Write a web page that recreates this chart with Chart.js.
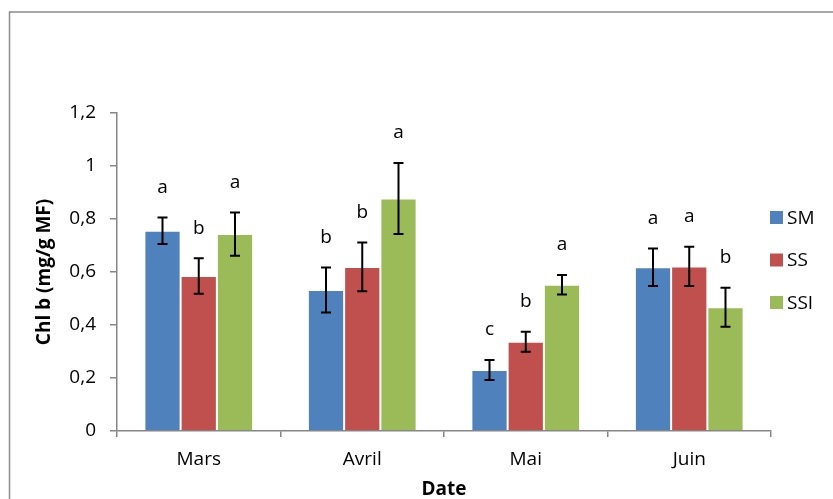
<!DOCTYPE html>
<html>
<head>
<meta charset="utf-8">
<script src="https://cdn.jsdelivr.net/npm/chart.js@4/dist/chart.umd.min.js"></script>
<style>
html,body{margin:0;padding:0;background:#fff;}
#wrap{width:833px;height:499px;position:relative;}
</style>
</head>
<body>
<div id="wrap"><canvas id="c" width="833" height="499"></canvas></div>
<script>
const categories = ['Mars', 'Avril', 'Mai', 'Juin'];
const seriesNames = ['SM', 'SS', 'SSI'];
const smValues = [0.756, 0.532, 0.230, 0.618];
const ssValues = [0.585, 0.619, 0.337, 0.621];
const ssiValues = [0.743, 0.877, 0.552, 0.467];
const smErrors = [0.050, 0.085, 0.038, 0.071];
const ssErrors = [0.067, 0.092, 0.038, 0.074];
const ssiErrors = [0.082, 0.134, 0.037, 0.074];
const smLetters = ['a', 'b', 'c', 'a'];
const ssLetters = ['b', 'b', 'b', 'a'];
const ssiLetters = ['a', 'a', 'a', 'b'];
const yTicks = [0, 0.2, 0.4, 0.6, 0.8, 1, 1.2];
const yTitle = 'Chl b (mg/g MF)';
const xTitle = 'Date';

const colors = ['#4F81BD', '#C0504D', '#9BBB59'];
const FONT = '"Open Sans", "Noto Sans", sans-serif';
const AXIS = '#868686';
const FS = 19;

const values = [smValues, ssValues, ssiValues];
const errors = [smErrors, ssErrors, ssiErrors];
const letters = [smLetters, ssLetters, ssiLetters];

const errorBarPlugin = {
  id: 'errorBars',
  afterDatasetsDraw(chart) {
    const ctx = chart.ctx;
    const y = chart.scales.y;
    ctx.save();
    chart.data.datasets.forEach((ds, di) => {
      const meta = chart.getDatasetMeta(di);
      meta.data.forEach((bar, i) => {
        const v = values[di][i], e = errors[di][i];
        const yTop = y.getPixelForValue(v + e);
        const yBot = y.getPixelForValue(v - e);
        const x = bar.x;
        ctx.strokeStyle = '#000';
        ctx.lineWidth = 2;
        ctx.beginPath();
        ctx.moveTo(x, yTop); ctx.lineTo(x, yBot);
        ctx.moveTo(x - 5, yTop); ctx.lineTo(x + 5, yTop);
        ctx.moveTo(x - 5, yBot); ctx.lineTo(x + 5, yBot);
        ctx.stroke();
        ctx.fillStyle = '#000';
        ctx.font = FS + 'px ' + FONT;
        ctx.textAlign = 'center';
        ctx.textBaseline = 'middle';
        ctx.fillText(letters[di][i], x, yTop - 30);
      });
    });
    ctx.restore();
  }
};

const legendFramePlugin = {
  id: 'legendFrame',
  afterDraw(chart) {
    const ctx = chart.ctx;
    ctx.save();
    ctx.strokeStyle = '#8c8c8c';
    ctx.lineWidth = 1.5;
    ctx.beginPath();
    ctx.moveTo(9.5, 520); ctx.lineTo(9.5, 12); ctx.lineTo(860, 12);
    ctx.stroke();
    const centers = [217.5, 260, 302.5];
    chart.data.datasets.forEach((ds, di) => {
      const cy = centers[di];
      ctx.fillStyle = ds.backgroundColor;
      ctx.fillRect(770, cy - 6.5, 13, 13);
      ctx.fillStyle = '#000';
      ctx.font = FS + 'px ' + FONT;
      ctx.textAlign = 'left';
      ctx.textBaseline = 'middle';
      ctx.fillText(ds.label, 787, cy + 1);
    });
    ctx.restore();
  }
};

new Chart(document.getElementById('c'), {
  type: 'bar',
  data: {
    labels: categories,
    datasets: seriesNames.map((n, i) => ({
      label: n,
      data: values[i],
      backgroundColor: colors[i],
      borderColor: 'rgba(255,255,255,0.6)',
      borderWidth: 1,
      categoryPercentage: 0.665,
      barPercentage: 1.0
    }))
  },
  options: {
    responsive: false,
    animation: false,
    devicePixelRatio: 1,
    layout: { padding: { top: 113, right: 62, left: 0, bottom: 0 } },
    plugins: { legend: { display: false }, tooltip: { enabled: false } },
    scales: {
      x: {
        grid: { display: true, drawOnChartArea: false, offset: true, color: AXIS, tickLength: 6, lineWidth: 1.5 },
        border: { color: AXIS, width: 1.5 },
        ticks: { color: '#000', font: { family: FONT, size: FS }, padding: 11 },
        title: { display: true, text: xTitle, color: '#000', font: { family: FONT, size: 19, weight: 'bold', lineHeight: 1 }, padding: { top: 0, bottom: 0 } },
        afterFit(s) { s.height = 499 - 431; }
      },
      y: {
        min: 0, max: 1.2,
        afterBuildTicks(s) { s.ticks = yTicks.map(v => ({ value: v })); },
        grid: { display: true, drawOnChartArea: false, color: AXIS, tickLength: 7, lineWidth: 1.5 },
        border: { color: AXIS, width: 1.5 },
        ticks: {
          color: '#000', font: { family: FONT, size: FS }, padding: 14,
          callback: v => String(Math.round(v * 10) / 10).replace('.', ',')
        },
        title: { display: true, text: yTitle, color: '#000', font: { family: FONT, size: 19, weight: 'bold', lineHeight: 1 }, padding: { top: 35, bottom: 0 } },
        afterFit(s) { s.width = 117; }
      }
    }
  },
  plugins: [errorBarPlugin, legendFramePlugin]
});
</script>
</body>
</html>
